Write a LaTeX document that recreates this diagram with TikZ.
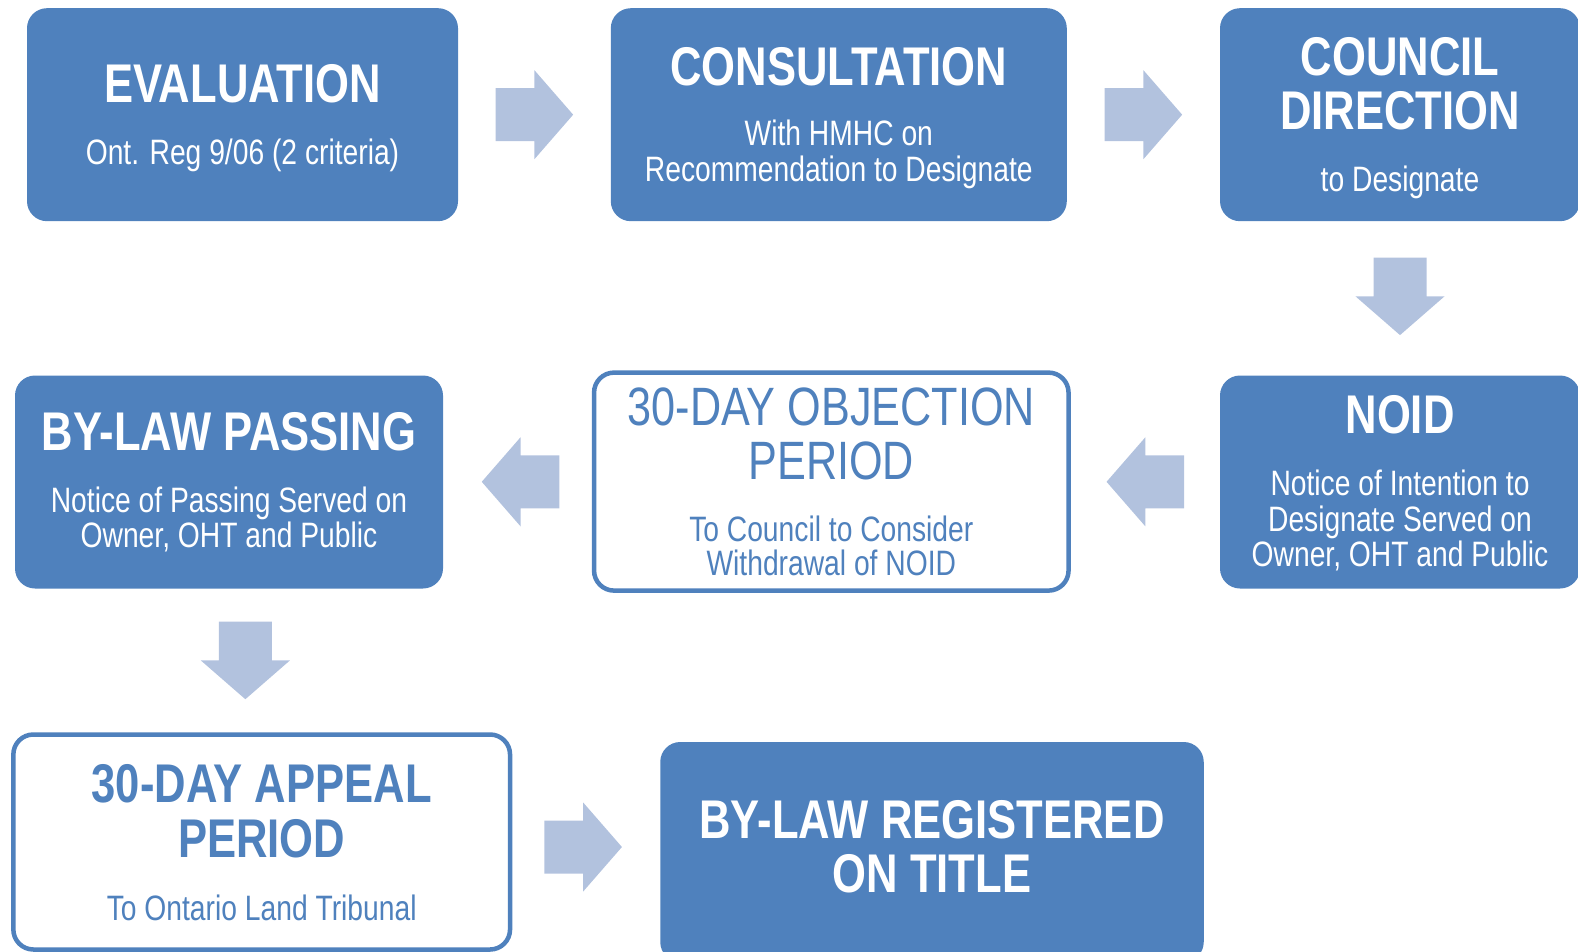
\documentclass[tikz,border=0pt]{standalone}
\usepackage{fontspec}
\newfontfamily\narrowsans[FakeStretch=0.8]{Liberation Sans}
\usetikzlibrary{calc}
\definecolor{boxblue}{HTML}{4F81BD}
\definecolor{arrowblue}{HTML}{B2C2DE}
\tikzset{
  solidbox/.style={rectangle, rounded corners=20pt, fill=boxblue, draw=none, inner sep=0pt},
  linebox/.style={rectangle, rounded corners=20pt, fill=white, draw=boxblue, line width=4.5pt, inner sep=0pt},
  titletext/.style={inner sep=0pt, anchor=base, font=\narrowsans\bfseries\fontsize{54.5}{54.5}\selectfont},
  titlelight/.style={inner sep=0pt, anchor=base, font=\narrowsans\fontsize{54}{54}\selectfont},
  subtext/.style={inner sep=0pt, anchor=base, font=\narrowsans\fontsize{35.3}{36}\selectfont},
  onfill/.style={text=white},
  online/.style={text=boxblue},
  blockarrow/.pic={\fill[arrowblue] (-38.75,-26.5) -- (0,-26.5) -- (0,-44.5) -- (38.75,0) -- (0,44.5) -- (0,26.5) -- (-38.75,26.5) -- cycle;}
}
\begin{document}
\begin{tikzpicture}[x=1pt, y=-1pt]
\useasboundingbox (0,0) rectangle (1578,952);
\clip (0,0) rectangle (1578,952);

% boxes
\node[solidbox, minimum width=431pt, minimum height=213pt] (eval) at (242.5,114.7) {};
\node[solidbox, minimum width=456pt, minimum height=213pt] (cons) at (838.8,114.7) {};
\node[solidbox, minimum width=360pt, minimum height=213pt] (council) at (1400,114.7) {};
\node[solidbox, minimum width=360pt, minimum height=213pt] (noid) at (1400,482) {};
\node[linebox, minimum width=474.5pt, minimum height=218pt] (obj) at (831.3,481.6) {};
\node[solidbox, minimum width=428pt, minimum height=213pt] (pass) at (229,482) {};
\node[linebox, minimum width=496.7pt, minimum height=215pt] (appeal) at (261.7,842) {};
\node[solidbox, minimum width=543.5pt, minimum height=220pt] (reg) at (932,852) {};

% block arrows between boxes
\pic (a1) at ($(eval.east)!0.5!(cons.west)$) {blockarrow};
\pic (a2) at ($(cons.east)!0.5!(council.west)$) {blockarrow};
\pic[rotate=-90] (a3) at ($(council.south)!0.5!(noid.north)+(0,-2)$) {blockarrow};
\pic[rotate=180] (a4) at ($(obj.east)!0.5!(noid.west)$) {blockarrow};
\pic[rotate=180] (a5) at ($(pass.east)!0.5!(obj.west)+(3,0)$) {blockarrow};
\pic[rotate=-90] (a6) at ($(pass.south)!0.5!(appeal.north)$) {blockarrow};
\pic (a7) at ($(appeal.east)!0.5!(reg.west)+(-3,0)$) {blockarrow};

% texts
\node[titletext, onfill] (evalT) at (242.5,102.5) {EVALUATION};
\node[subtext, onfill] (evalS) at (242.5,165) {Ont. Reg 9/06 (2 criteria)};

\node[titletext, onfill] (consT) at (838.8,85.5) {CONSULTATION};
\node[subtext, onfill] (consS1) at (838.8,146) {With HMHC on};
\node[subtext, onfill] (consS2) at (838.8,182) {Recommendation to Designate};

\node[titletext, onfill] (councilT1) at (1400,76) {COUNCIL};
\node[titletext, onfill] (councilT2) at (1400,129.5) {DIRECTION};
\node[subtext, onfill] (councilS) at (1400,191) {to Designate};

\node[titletext, onfill] (noidT) at (1400,433.5) {NOID};
\node[subtext, onfill] (noidS1) at (1400,495.5) {Notice of Intention to};
\node[subtext, onfill] (noidS2) at (1400,531.5) {Designate Served on};
\node[subtext, onfill] (noidS3) at (1400,566) {Owner, OHT and Public};

\node[titletext, onfill] (passT) at (229,450.5) {BY-LAW PASSING};
\node[subtext, onfill] (passS1) at (229,512) {Notice of Passing Served on};
\node[subtext, onfill] (passS2) at (229,547.5) {Owner, OHT and Public};

\node[titlelight, online] (objT1) at (831.3,425) {30-DAY OBJECTION};
\node[titlelight, online] (objT2) at (831.3,479.5) {PERIOD};
\node[subtext, online] (objS1) at (831.3,541.5) {To Council to Consider};
\node[subtext, online] (objS2) at (831.3,575.5) {Withdrawal of NOID};

\node[titletext, online] (appealT1) at (261.7,802.5) {30-DAY APPEAL};
\node[titletext, online] (appealT2) at (261.7,857) {PERIOD};
\node[subtext, online] (appealS) at (261.7,920) {To Ontario Land Tribunal};

\node[titletext, onfill] (regT1) at (932,838.5) {BY-LAW REGISTERED};
\node[titletext, onfill] (regT2) at (932,892.5) {ON TITLE};
\end{tikzpicture}
\end{document}
